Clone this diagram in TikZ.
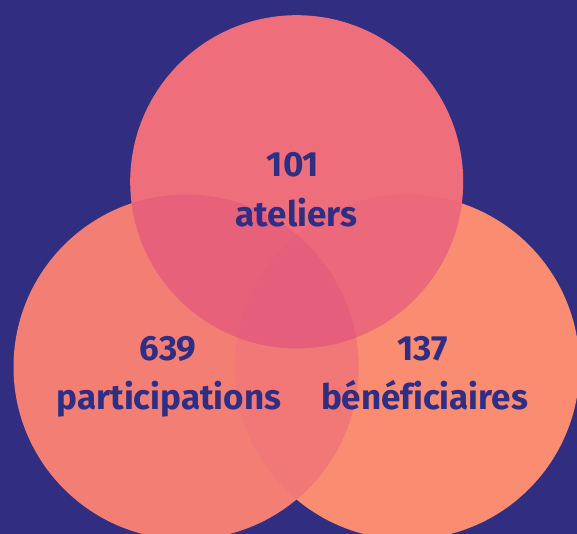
\documentclass[tikz,border=0pt]{standalone}
\usepackage{fontspec}
\setmainfont{Fira Sans}[Ligatures=NoCommon]
\definecolor{bg}{HTML}{312E81}
\definecolor{txt}{HTML}{2F2E82}
\definecolor{cR}{HTML}{FA8C71}
\definecolor{cL}{HTML}{F37F74}
\definecolor{cLR}{HTML}{F17876}
\definecolor{cT}{HTML}{EE6F7B}
\definecolor{cTL}{HTML}{E7617A}
\definecolor{cTR}{HTML}{EB697A}
\definecolor{cTLR}{HTML}{E55E7B}
\tikzset{
  lbl/.style={text=txt, font=\bfseries\fontsize{35}{35}\selectfont, anchor=base, inner sep=0pt},
}
\begin{document}
\begin{tikzpicture}[x=1pt,y=-1pt]
\useasboundingbox (0,0) rectangle (577,534);
\fill[bg] (0,0) rectangle (577,534);
\clip (0,0) rectangle (577,534);
\def\cT{(296.7,181.7) circle (166.5)}
\def\cL{(186,367) circle (172.5)}
\def\cR{(407,367) circle (172.5)}
\fill[cR] \cR;
\fill[cL] \cL;
\begin{scope}\clip \cL; \fill[cLR] \cR; \end{scope}
\fill[cT] \cT;
\begin{scope}\clip \cT; \fill[cTL] \cL; \end{scope}
\begin{scope}\clip \cT; \fill[cTR] \cR; \end{scope}
\begin{scope}\clip \cT; \clip \cL; \fill[cTLR] \cR; \end{scope}
\node[lbl] (n101) at (293,176.5) {101};
\node[lbl] (ateliers) at (296.5,227) {ateliers};
\node[lbl] (n639) at (168,360.5) {639};
\node[lbl] (particip) at (169,409) {participations};
\node[lbl] (n137) at (423,360.5) {137};
\node[lbl] (benef) at (424.5,409) {bénéficiaires};
\end{tikzpicture}
\end{document}
